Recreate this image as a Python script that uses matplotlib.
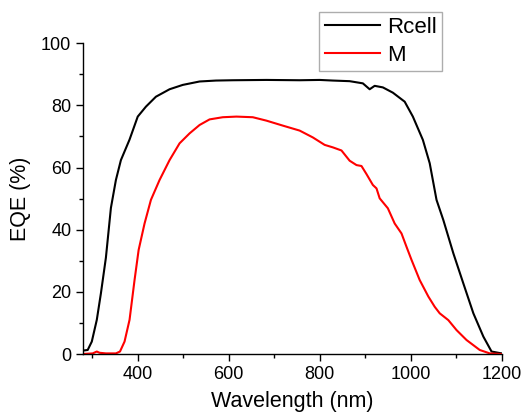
import matplotlib
matplotlib.use("Agg")
import matplotlib.pyplot as plt
from matplotlib.ticker import MultipleLocator

plt.rcParams['font.family'] = ['Liberation Sans', 'DejaVu Sans']

rcell_wl = [279, 290, 299, 310, 319, 330, 341, 352, 363, 382, 400, 418, 440, 470, 499, 536, 572, 609, 683, 756,
            800, 829, 866, 895, 910, 921, 939, 961, 987, 1005, 1027, 1042, 1057, 1072, 1094, 1116, 1138, 1160, 1178, 1200]
rcell_eqe = [1.1, 1.3, 4, 11, 19.5, 31, 47, 56, 62.4, 69, 76.4, 79.6, 82.8, 85.2, 86.6, 87.7, 88, 88.1, 88.2, 88.1,
             88.2, 88, 87.8, 87.1, 85.2, 86.3, 85.8, 84.1, 81.2, 76.4, 68.9, 61.4, 49.6, 43.1, 32.4, 22.7, 13.1, 5.6, 0.8, 0.2]

m_wl = [279, 301, 310, 316, 330, 352, 361, 371, 382, 393, 402, 415, 429, 448, 470, 492, 514, 536, 558, 587, 617,
        653, 683, 719, 756, 785, 811, 829, 848, 866, 881, 892, 903, 917, 925, 932, 950, 965, 980, 991, 1002, 1020,
        1039, 1053, 1064, 1083, 1101, 1123, 1152, 1174, 1200]
m_eqe = [0, 0.2, 0.8, 0.4, 0.2, 0.2, 0.8, 4, 11, 23.8, 33.5, 42, 49.6, 56, 62.4, 67.8, 71, 73.7, 75.5, 76.2, 76.4,
         76.2, 75.1, 73.5, 71.9, 69.7, 67.3, 66.5, 65.5, 62.2, 60.8, 60.5, 57.9, 54.4, 53.3, 50.1, 46.9, 42, 38.8, 34.5,
         30.3, 23.8, 18.5, 15.2, 13.1, 10.9, 7.7, 4.5, 1.3, 0.2, 0]

fig = plt.figure(figsize=(5.23, 4.16), dpi=100)
ax = fig.add_axes([0.159, 0.149, 0.8, 0.747])
l1, = ax.plot(rcell_wl, rcell_eqe, color='black', lw=1.5, label='Rcell')
l2, = ax.plot(m_wl, m_eqe, color='red', lw=1.5, label='M')

ax.set_xlim(280, 1200)
ax.set_ylim(0, 100)
ax.xaxis.set_major_locator(MultipleLocator(200))
ax.xaxis.set_minor_locator(MultipleLocator(100))
ax.yaxis.set_major_locator(MultipleLocator(20))
ax.yaxis.set_minor_locator(MultipleLocator(10))
ax.spines['top'].set_visible(False)
ax.spines['right'].set_visible(False)
for s in ['left', 'bottom']:
    ax.spines[s].set_linewidth(1.0)
ax.tick_params(which='major', direction='out', length=5, width=1.0, labelsize=13)
ax.tick_params(which='minor', direction='out', length=3, width=1.0)
ax.set_xlabel('Wavelength (nm)', fontsize=15.5, labelpad=6)
ax.set_ylabel('EQE (%)', fontsize=15.5, labelpad=7)

leg = fig.legend(handles=[l1, l2], loc='upper left', bbox_to_anchor=(319/523, 1 - 11.7/416),
                 fontsize=16, frameon=True, fancybox=False, handlelength=2.5, handletextpad=0.3,
                 borderpad=0.25, labelspacing=0.3, borderaxespad=0)
leg.get_frame().set_edgecolor('#999999')
leg.get_frame().set_linewidth(1.0)

fig.savefig('out.png', dpi=100)
